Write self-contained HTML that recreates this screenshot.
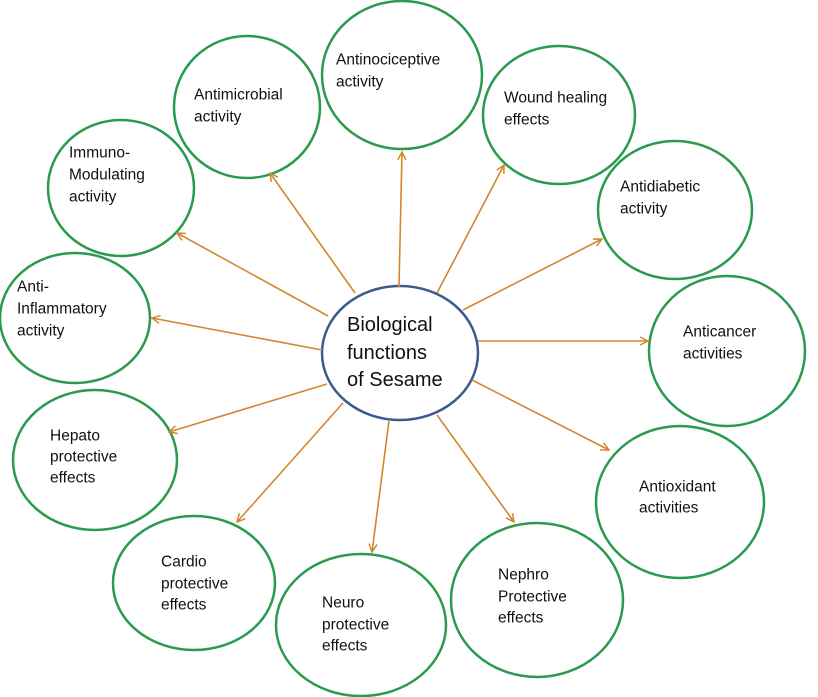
<!DOCTYPE html>
<html><head><meta charset="utf-8"><style>html,body{margin:0;padding:0;background:#fff}svg{display:block}</style></head>
<body>
<svg width="818" height="697" viewBox="0 0 818 697" xmlns="http://www.w3.org/2000/svg">
<defs>
<marker id="a" markerWidth="10" markerHeight="10" refX="9" refY="5" orient="auto" markerUnits="userSpaceOnUse">
<path d="M1,1 L9,5 L1,9" fill="none" stroke="#d4852f" stroke-width="1.5"/>
</marker>
</defs>
<g fill="none" stroke="#2a9a4e" stroke-width="2.5">
<ellipse cx="402" cy="75" rx="80" ry="74"/>
<ellipse cx="247" cy="107" rx="73" ry="71"/>
<ellipse cx="559" cy="115" rx="76" ry="69"/>
<ellipse cx="121" cy="188" rx="73" ry="68"/>
<ellipse cx="675" cy="210" rx="77" ry="69"/>
<ellipse cx="75" cy="318" rx="75" ry="65"/>
<ellipse cx="727" cy="351" rx="78" ry="75"/>
<ellipse cx="95" cy="460" rx="82" ry="70"/>
<ellipse cx="194" cy="583" rx="81" ry="67"/>
<ellipse cx="361" cy="625" rx="85" ry="71"/>
<ellipse cx="537" cy="600" rx="86" ry="77"/>
<ellipse cx="680" cy="502" rx="84" ry="76"/>
</g>
<ellipse cx="400" cy="353" rx="78" ry="67" fill="#fff" stroke="#3b5b8f" stroke-width="2.5"/>
<g stroke="#d4852f" stroke-width="1.6" marker-end="url(#a)">
<line x1="399" y1="287" x2="402" y2="152"/>
<line x1="355" y1="293" x2="270" y2="173"/>
<line x1="437" y1="293" x2="504" y2="165"/>
<line x1="328" y1="316" x2="177" y2="233"/>
<line x1="463" y1="310" x2="602" y2="239"/>
<line x1="322" y1="350" x2="152" y2="318"/>
<line x1="478" y1="341" x2="648" y2="341"/>
<line x1="327" y1="384" x2="169" y2="432"/>
<line x1="343" y1="403" x2="237" y2="522"/>
<line x1="389" y1="421" x2="372" y2="552"/>
<line x1="437" y1="415" x2="514" y2="522"/>
<line x1="472" y1="380" x2="609" y2="450"/>
</g>
<g font-family="Liberation Sans, sans-serif" font-size="15.5" fill="#111" dominant-baseline="central">
<text x="336" y="60">Antinociceptive</text><text x="336" y="82">activity</text>
<text x="194" y="95">Antimicrobial</text><text x="194" y="117">activity</text>
<text x="504" y="98">Wound healing</text><text x="504" y="120">effects</text>
<text x="69" y="153">Immuno-</text><text x="69" y="175">Modulating</text><text x="69" y="197">activity</text>
<text x="620" y="187">Antidiabetic</text><text x="620" y="209">activity</text>
<text x="17" y="287">Anti-</text><text x="17" y="309">Inflammatory</text><text x="17" y="331">activity</text>
<text x="683" y="332">Anticancer</text><text x="683" y="354">activities</text>
<text x="50" y="436">Hepato</text><text x="50" y="457">protective</text><text x="50" y="478">effects</text>
<text x="161" y="562">Cardio</text><text x="161" y="584">protective</text><text x="161" y="605">effects</text>
<text x="322" y="603">Neuro</text><text x="322" y="625">protective</text><text x="322" y="646">effects</text>
<text x="498" y="575">Nephro</text><text x="498" y="597">Protective</text><text x="498" y="618">effects</text>
<text x="639" y="487">Antioxidant</text><text x="639" y="508">activities</text>
</g>
<g font-family="Liberation Sans, sans-serif" font-size="20" fill="#111" dominant-baseline="central">
<text x="347" y="325">Biological</text><text x="347" y="353">functions</text><text x="347" y="380">of Sesame</text>
</g>
</svg>
</body></html>
